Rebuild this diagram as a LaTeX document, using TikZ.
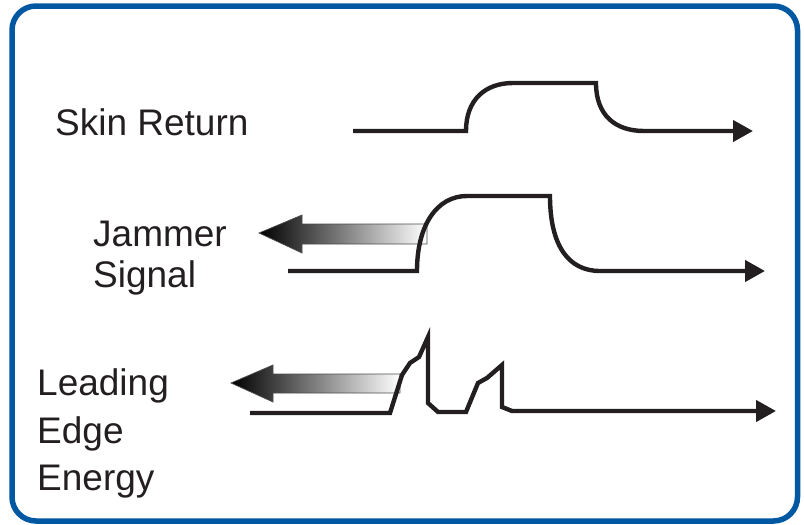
\documentclass[tikz,border=0pt]{standalone}
\usepackage{fontspec}
\setmainfont{Liberation Sans}
\usetikzlibrary{arrows.meta}
\definecolor{frameblue}{HTML}{0057A2}
\definecolor{ink}{HTML}{231F20}
\begin{document}
\begin{tikzpicture}[x=1pt,y=-1pt,
  lbl/.style={anchor=base west,inner sep=0pt,text=ink,font=\fontsize{37}{42}\selectfont},
  wave/.style={draw=ink,line width=4.4pt,-{Triangle[length=20pt,width=21pt]}},
  garrow/.style={draw=ink!80,line width=0.7pt,left color=black,right color=white,shading angle=90}]
\useasboundingbox (0,0) rectangle (804,525);
\draw[frameblue,line width=5.5pt,rounded corners=24pt] (12,6) rectangle (797.5,521);
% labels
\node[lbl] (skin) at (55,135) {Skin Return};
\node[lbl] (jam1) at (93,246) {Jammer};
\node[lbl] (jam2) at (93,287) {Signal};
\node[lbl] (le1) at (37,395) {Leading};
\node[lbl] (le2) at (37,443) {Edge};
\node[lbl] (le3) at (37,490) {Energy};
% gradient arrows
\shade[garrow] (259,233) -- (302,215) -- (302,224) -- (427,224) -- (427,244) -- (302,244) -- (302,253) -- cycle;
\shade[garrow] (231,383) -- (273,365) -- (273,374) -- (400,374) -- (400,393) -- (273,393) -- (273,402) -- cycle;
% skin return
\draw[wave] (353,131) -- (466,131) .. controls (466,100) and (485,83) .. (513,83)
  -- (596,83) .. controls (596,115) and (615,131) .. (644,131) -- (753,131);
% jammer signal
\draw[wave] (288,271) -- (417,271) .. controls (417,225) and (437,196) .. (467,196)
  -- (550,196) .. controls (550,245) and (568,271) .. (600,271) -- (765,271);
% leading edge energy
\draw[wave] (250,413) -- (390,413) -- (402,375) -- (410,363) -- (419,357) -- (428,337)
  -- (428,403) -- (438,412) -- (466,412) -- (478,383) -- (487,378) -- (502,365)
  -- (502,407) -- (512,411) -- (776,411);
\end{tikzpicture}
\end{document}
